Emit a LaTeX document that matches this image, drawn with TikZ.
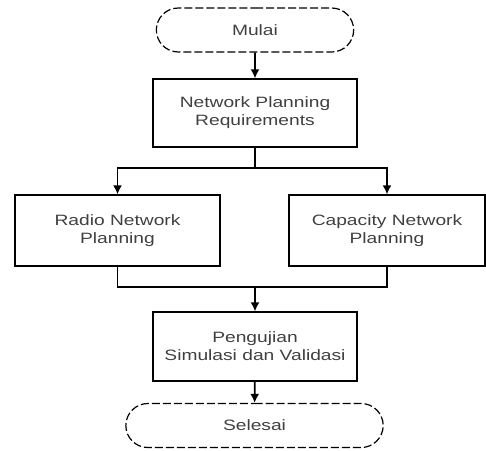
\documentclass[tikz,border=0pt]{standalone}
\usepackage{fontspec}
\newfontfamily\flowfont[FakeStretch=1.28]{Liberation Sans}
\usetikzlibrary{arrows.meta,shapes.misc}
\definecolor{TextClr}{rgb}{0.25,0.25,0.25}

\begin{document}
\begin{tikzpicture}[x=1pt,y=-1pt,>={Latex[length=9pt,width=9pt]},
  proc/.style={draw,line width=1.2pt,minimum width=204pt,minimum height=68pt,
    align=center,font=\flowfont\fontsize{15}{18}\selectfont,text=TextClr},
  term/.style={draw,rounded rectangle,dash pattern=on 8pt off 3pt,line width=1.2pt,
    minimum height=44pt,font=\flowfont\fontsize{15}{18}\selectfont,text=TextClr},
  flow/.style={->,line width=1.8pt}]
\useasboundingbox (0,0) rectangle (486,450);

\node[term,minimum width=204pt] (mulai) at (255,30) {Mulai};
\node[proc] (req) at (255,113) {Network Planning\\Requirements};
\node[proc,minimum width=205pt,minimum height=71pt] (radio) at (117.5,230.5) {Radio Network\\Planning};
\node[proc,minimum width=196pt,minimum height=71pt] (cap) at (387,230.5) {Capacity Network\\Planning};
\node[proc,minimum height=69pt] (uji) at (255,346.5) {Pengujian\\Simulasi dan Validasi};
\node[term,minimum width=264pt] (selesai) at (254.5,425.5) {Selesai};

\coordinate (split) at (255,168);
\coordinate (join) at (255,287);

\draw[flow] (mulai) -- (req);
\draw[line width=1.8pt] (req) -- (split);
\draw[flow] (split) -| (radio);
\draw[flow] (split) -| (cap);
\draw[line width=1.8pt] (radio) |- (join);
\draw[line width=1.8pt] (cap) |- (join);
\draw[flow] (join) -- (uji);
\draw[flow] (uji) -- (selesai);

\end{tikzpicture}
\end{document}
